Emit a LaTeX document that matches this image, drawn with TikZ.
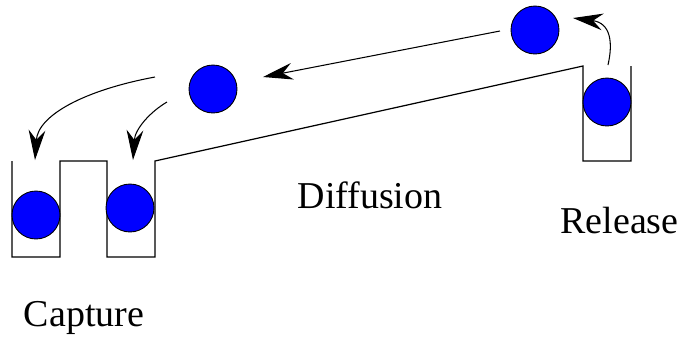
\documentclass[tikz,border=0pt]{standalone}
\usepackage{fontspec}
\setmainfont{Liberation Serif}
\usetikzlibrary{arrows.meta,positioning}

\tikzset{
  ball/.style={circle, draw, fill=blue, line width=.5pt, minimum size=27.3pt, inner sep=0pt},
  word/.style={font=\fontsize{21.6}{26}\selectfont, anchor=base, inner sep=0pt},
  hop/.style={-{Stealth[length=17pt,width=9.5pt,inset=5.5pt]}, line width=.6pt}
}

\begin{document}
\begin{tikzpicture}[scale=.2]
\useasboundingbox (0,0) rectangle (68,33.9);

\draw[line width=.7pt] (1.2,17.8) -- (1.2,8.2) -- (6,8.2) -- (6,17.8) -- (10.7,17.8) -- (10.7,8.2)
  -- (15.5,8.2) -- (15.5,17.8) -- (58.3,27.3) -- (58.3,17.8) -- (63.1,17.8) -- (63.1,27.3);

\node[ball] (b1) at (3.6,12.4) {};
\node[ball] (b2) at (13.0,13.1) {};
\node[ball] (b3) at (60.7,23.7) {};
\node[ball] (b4) at (53.5,30.9) {};
\node[ball] (b5) at (21.3,25.0) {};

\coordinate (r0) at (60.8,27.4);
\coordinate (r1) at (57.3,32.1);
\coordinate (d0) at (50.0,30.8);
\coordinate (d1) at (26.3,26.2);
\coordinate (c0) at (15.5,26.2);
\coordinate (c1) at (3.5,17.9);
\coordinate (e0) at (16.7,23.7);
\coordinate (e1) at (13.3,17.9);

\draw[hop] (r0) .. controls (61.3,29.6) and (61.1,31.6) .. (r1);
\draw[hop] (d0) -- (d1);
\draw[hop] (c0) .. controls (8.5,24.9) and (3.8,22.4) .. (c1);
\draw[hop] (e0) .. controls (15.0,22.7) and (13.5,21.0) .. (e1);

\node[word] (diff) at (37.0,13.1) {Diffusion};
\node[word] (rel) at (61.95,10.6) {Release};
\node[word] (cap) at (8.4,1.3) {Capture};
\end{tikzpicture}
\end{document}
